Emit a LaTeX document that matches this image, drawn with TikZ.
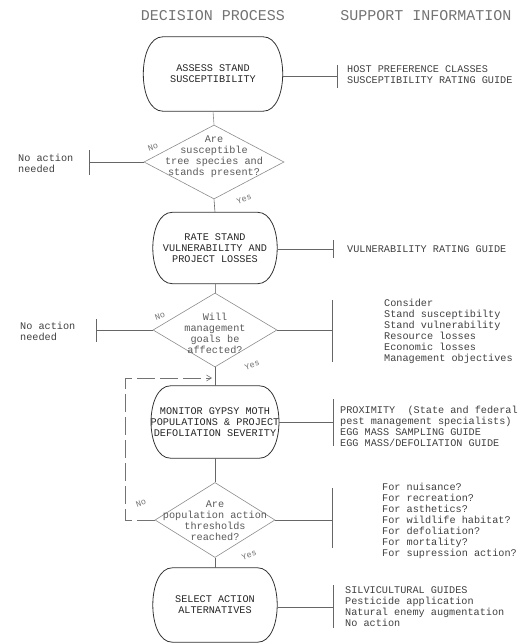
\documentclass[tikz,border=0pt]{standalone}
\usepackage{fontspec}
\setmonofont{Liberation Mono}
\usetikzlibrary{shapes.geometric,calc,arrows.meta}
\tikzset{
  mono/.style={font=\ttfamily\fontsize{10.2}{11}\selectfont},
  titletext/.style={font=\ttfamily\fontsize{15}{17}\selectfont, text=black!55, inner sep=0pt},
  termbox/.style={draw=none, inner sep=0pt, align=center, mono, text=black!85},
  boxline/.style={draw=black!80, line width=0.8pt},
  dia/.style={diamond, draw=black!45, line width=0.6pt, inner sep=0pt},
  dtext/.style={mono, text=black!65, align=center, inner sep=0pt},
  infotext/.style={mono, text=black!75, align=left, anchor=west, inner sep=0pt},
  yn/.style={font=\ttfamily\fontsize{8.5}{9}\selectfont, text=black!55, rotate=20, inner sep=0pt},
  conn/.style={draw=black!60, line width=0.6pt},
  loopline/.style={draw=black!55, line width=0.6pt, dash pattern=on 18pt off 5pt},
}
\newcommand{\termoutline}[1]{%
  \draw[boxline] ($(#1.north west)+(20,0)$) -- ($(#1.north east)+(-20,0)$)
    .. controls ($(#1.north east)+(6,0)$) and ($(#1.south east)+(6,0)$) .. ($(#1.south east)+(-20,0)$)
    -- ($(#1.south west)+(20,0)$)
    .. controls ($(#1.south west)+(-6,0)$) and ($(#1.north west)+(-6,0)$) .. ($(#1.north west)+(20,0)$) -- cycle;}
\begin{document}
\begin{tikzpicture}[x=1pt,y=-1pt]
\useasboundingbox (0,0) rectangle (521,644);

% titles
\node[titletext] (t1) at (213,16) {DECISION PROCESS};
\node[titletext] (t2) at (426,16) {SUPPORT INFORMATION};

% ---------- step 1
\node[termbox, minimum width=140, minimum height=74] (b1) at (213,74) {ASSESS STAND\\SUSCEPTIBILITY};
\termoutline{b1}
\coordinate (k1) at (337,76);
\draw[conn] (b1.east |- k1) -- (k1);
\draw[conn] ($(k1)+(0,-11)$) -- ($(k1)+(0,12)$);
\node[infotext] (s1) at (347,75) {HOST PREFERENCE CLASSES\\SUSCEPTIBILITY RATING GUIDE};

% diamond 1
\node[dia, minimum width=140, minimum height=74] (d1) at (214,162) {};
\node[dtext] (d1t) at (214,157) {Are\\susceptible\\tree species and\\stands present?};
\draw[conn, draw=black!45] (b1.south) -- (d1.north);
\node[yn] (no1) at (153,147) {No};
\node[yn] (yes1) at (244,199) {Yes};
\coordinate (n1) at (89,162);
\draw[conn] (d1.west) -- (n1);
\draw[conn] ($(n1)+(0,-12)$) -- ($(n1)+(0,13)$);
\node[infotext] (na1) at (18,163) {No action\\needed};

% ---------- step 2
\node[termbox, minimum width=125, minimum height=71] (b2) at (215,248) {RATE STAND\\VULNERABILITY AND\\PROJECT LOSSES};
\termoutline{b2}
\draw[conn] (d1.south) -- (b2.north);
\coordinate (k2) at (333,249);
\draw[conn] (b2.east |- k2) -- (k2);
\draw[conn] ($(k2)+(0,-9)$) -- ($(k2)+(0,9)$);
\node[infotext] (s2) at (347,249) {VULNERABILITY RATING GUIDE};

% diamond 2
\node[dia, minimum width=124, minimum height=74] (d2) at (215,330) {};
\node[dtext] (d2t) at (215,333) {Will\\management\\goals be\\affected?};
\draw[conn, draw=black!45] (b2.south) -- (d2.north);
\node[yn] (no2) at (160,316) {No};
\node[yn] (yes2) at (252,365) {Yes};
\coordinate (n2) at (96,330);
\draw[conn] (d2.west) -- (n2);
\draw[conn] ($(n2)+(0,-11)$) -- ($(n2)+(0,12)$);
\node[infotext] (na2) at (20,331) {No action\\needed};
\coordinate (k3) at (332,330);
\draw[conn] (d2.east) -- (k3);
\draw[conn] ($(k3)+(0,-30)$) -- ($(k3)+(0,32)$);
\node[infotext] (s3) at (384,331) {Consider\\Stand susceptibilty\\Stand vulnerability\\Resource losses\\Economic losses\\Management objectives};

% ---------- step 3
\node[termbox, minimum width=128, minimum height=72] (b3) at (215,422) {MONITOR GYPSY MOTH\\POPULATIONS \& PROJECT\\DEFOLIATION SEVERITY};
\termoutline{b3}
\draw[conn] (d2.south) -- (b3.north);
\coordinate (k4) at (333,422);
\draw[conn] (b3.east |- k4) -- (k4);
\draw[conn] ($(k4)+(0,-23)$) -- ($(k4)+(0,24)$);
\node[infotext] (s4) at (340,426) {PROXIMITY\ \ (State and federal\\pest management specialists)\\EGG MASS SAMPLING GUIDE\\EGG MASS/DEFOLIATION GUIDE};

% diamond 3
\node[dia, minimum width=120, minimum height=75] (d3) at (215,520) {};
\node[dtext] (d3t) at (215,521) {Are\\population action\\thresholds\\reached?};
\draw[conn] (b3.south) -- (d3.north);
\node[yn] (no3) at (141,503) {No};
\node[yn] (yes3) at (249,555) {Yes};
\coordinate (lp) at (125,378);
\coordinate (lpend) at (212,378);
\draw[loopline, -{Straight Barb[length=5pt,width=6pt]}] (d3.west) -- (d3.west -| lp) -- (lp) -- (lpend);
\coordinate (k5) at (332,520);
\draw[conn] (d3.east) -- (k5);
\draw[conn] ($(k5)+(0,-32)$) -- ($(k5)+(0,28)$);
\node[infotext] (s5) at (382,521) {For nuisance?\\For recreation?\\For asthetics?\\For wildlife habitat?\\For defoliation?\\For mortality?\\For supression action?};

% ---------- step 4
\node[termbox, minimum width=125, minimum height=74] (b4) at (215,605) {SELECT ACTION\\ALTERNATIVES};
\termoutline{b4}
\draw[conn] (d3.south) -- (b4.north);
\coordinate (k6) at (333,607);
\draw[conn] (b4.east |- k6) -- (k6);
\draw[conn] ($(k6)+(0,-22)$) -- ($(k6)+(0,21)$);
\node[infotext] (s6) at (345,607) {SILVICULTURAL GUIDES\\Pesticide application\\Natural enemy augmentation\\No action};
\end{tikzpicture}
\end{document}
